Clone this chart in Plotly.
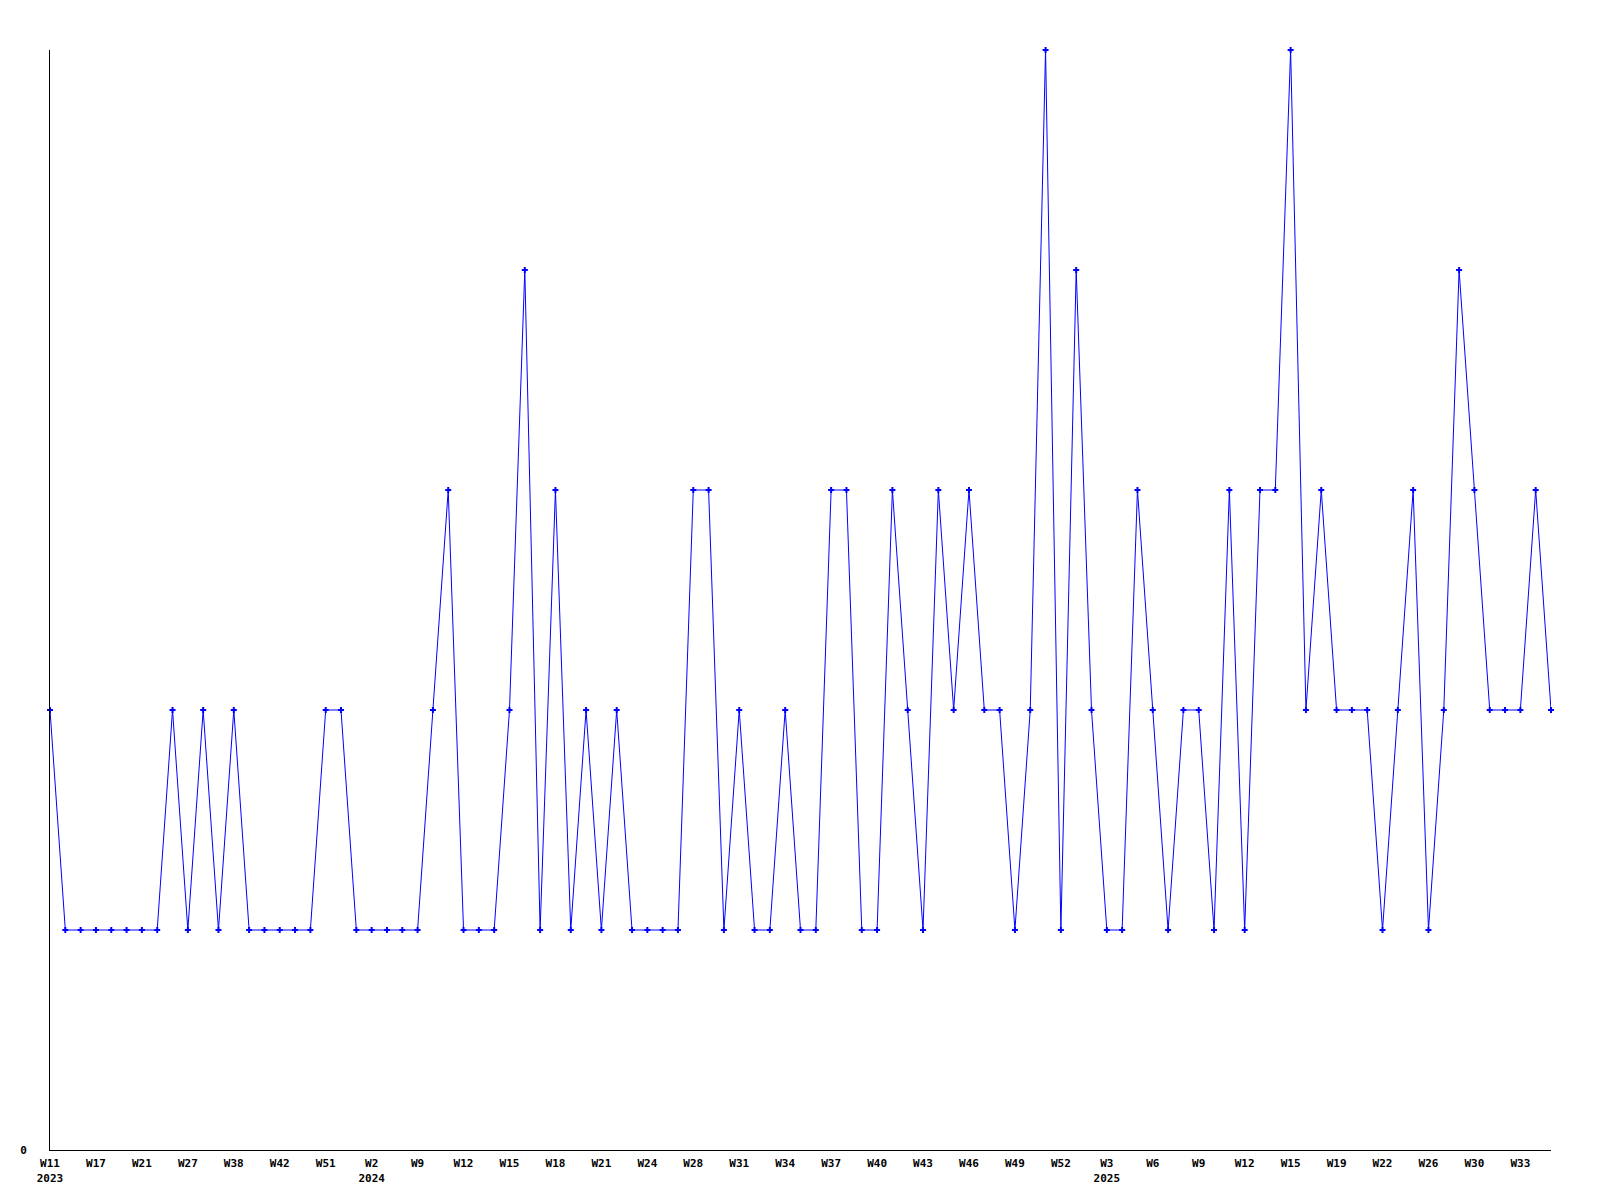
import plotly.graph_objects as go

# ISO weeks (year, week) for each data point
years = [2023]*20 + [2024]*47 + [2025]*32
weeks = [11, 13, 15, 17, 18, 20, 21, 23, 25, 27, 31, 35, 38, 39, 41, 42, 45, 48, 51, 52,
         1, 2, 5, 7, 9, 10, 11, 12, 13, 14, 15, 16, 17, 18, 19, 20, 21, 22, 23, 24, 25, 27,
         28, 29, 30, 31, 32, 33, 34, 35, 36, 37, 38, 39, 40, 41, 42, 43, 44, 45, 46, 47, 48,
         49, 50, 51, 52,
         1, 2, 3, 4, 5, 6, 7, 8, 9, 10, 11, 12, 13, 14, 15, 16, 17, 19, 20, 21, 22, 24, 25,
         26, 28, 29, 30, 31, 32, 33, 34, 35]
values = [2, 1, 1, 1, 1, 1, 1, 1, 2, 1, 2, 1, 2, 1, 1, 1, 1, 1, 2, 2,
          1, 1, 1, 1, 1, 2, 3, 1, 1, 1, 2, 4, 1, 3, 1, 2, 1, 2, 1, 1,
          1, 1, 3, 3, 1, 2, 1, 1, 2, 1, 1, 3, 3, 1, 1, 3, 2, 1, 3, 2,
          3, 2, 2, 1, 2, 5, 1, 4, 2, 1, 1, 3, 2, 1, 2, 2, 1, 3, 1, 3,
          3, 5, 2, 3, 2, 2, 2, 1, 2, 3, 1, 2, 4, 3, 2, 2, 2, 3, 2]

categories = [f"{y}-W{w}" for y, w in zip(years, weeks)]

tick_step = 3
tickvals = categories[::tick_step]
ticktext = []
prev_year = None
for i in range(0, len(categories), tick_step):
    t = f"W{weeks[i]}"
    if years[i] != prev_year:
        t += f"<br>{years[i]}"
    prev_year = years[i]
    ticktext.append(t)

fig = go.Figure(go.Scatter(
    x=categories, y=values, mode="lines+markers",
    line=dict(color="#0000FF", width=1),
    marker=dict(color="#0000FF", size=5, symbol="cross"),
    cliponaxis=False,
))

font = dict(family="DejaVu Sans Mono", size=11, color="black")

fig.update_layout(
    width=1584, height=1184,
    margin=dict(l=42, r=41, t=42, b=42, autoexpand=False),
    plot_bgcolor="white", paper_bgcolor="white",
    showlegend=False,
    font=font,
)
fig.update_xaxes(
    type="category", range=[0, len(categories) - 1],
    tickvals=tickvals, ticktext=ticktext, tickangle=0,
    showline=True, linecolor="black", linewidth=1,
    showgrid=False, zeroline=False, ticks="", ticklabelstandoff=3,
    automargin=False,
    tickfont=dict(family="DejaVu Sans Mono", size=11, color="black", weight="bold"),
)
fig.update_yaxes(
    range=[0, 5], tickvals=[0], ticktext=["0"],
    showline=True, linecolor="black", linewidth=1,
    showgrid=False, zeroline=False, ticks="", ticklabelstandoff=20,
    automargin=False,
    tickfont=dict(family="DejaVu Sans Mono", size=11, color="black", weight="bold"),
)

fig.write_html("out.html")
